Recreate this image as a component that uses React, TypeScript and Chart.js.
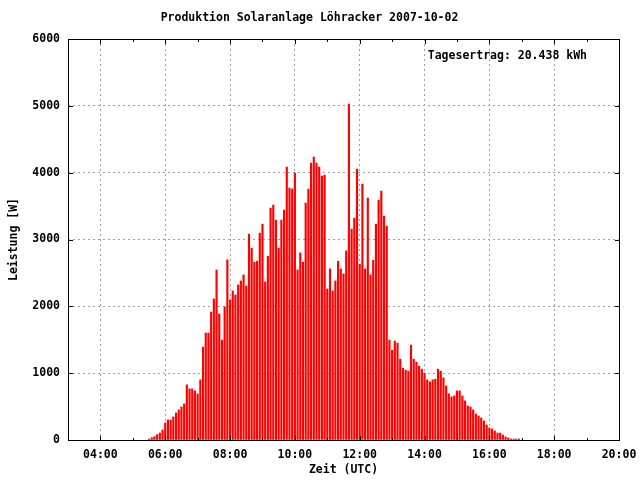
import React, { useEffect, useRef } from "react";
import { Chart, registerables } from "chart.js";

Chart.register(...registerables);

const TITLE = "Produktion Solaranlage Löhracker 2007-10-02";
const ANNOTATION = "Tagesertrag: 20.438 kWh";
const X_TITLE = "Zeit (UTC)";
const Y_TITLE = "Leistung [W]";

// first sample 05:30 UTC, one sample every 5 minutes
const START_HOUR = 5.5;
const STEP_MINUTES = 5;

// power in W, one value per 5-minute sample
const POWER_MORNING = [
  15, 35, 50, 80, 105, 150, 255, 300, 300, 345, 405, 450, 495, 540,
  825, 765, 765, 735, 690, 900, 1390, 1600, 1600, 1915, 2110, 2545, 1885, 1495, 1990, 2695,
  2095, 2230, 2170, 2320,
];
const POWER_MIDDAY = [
  2380, 2470, 2305, 3080, 2870, 2660, 2675, 3095, 3230, 2365,
  2750, 3470, 3515, 3290, 2870, 3290, 3440, 4085, 3770, 3755,
  3995, 2545, 2800, 2660, 3545, 3755, 4145, 4235, 4145, 4085,
  3950, 3965, 2260, 2560, 2230, 2380, 2675, 2560, 2485, 2830,
  5025, 3155, 3320, 4055,
  2630, 3830, 2560, 3620, 2470, 2690, 3230, 3590, 3725, 3350, 3200,
];
const POWER_AFTERNOON = [
  1495, 1345, 1480, 1450, 1210, 1075, 1045, 1030, 1420, 1210,
  1165, 1105, 1060, 1000, 900, 870, 900, 910, 1060, 1030,
  930, 810, 690, 645, 660, 735, 735, 660, 585, 510,
  495, 450, 390, 360, 330, 285, 225, 180, 165, 135,
  105, 105, 75, 45, 30, 15, 15, 15, 15,
];
const POWER = [...POWER_MORNING, ...POWER_MIDDAY, ...POWER_AFTERNOON];

const X_MIN = 3;
const X_MAX = 20;
const X_TICKS = [4, 6, 8, 10, 12, 14, 16, 18, 20];
const X_MINOR_TICKS = [5, 7, 9, 11, 13, 15, 17, 19];
const Y_TICKS = [0, 1000, 2000, 3000, 4000, 5000, 6000];

const FONT_FAMILY = "'DejaVu Sans Mono', monospace";
const FONT = { family: FONT_FAMILY, size: 11.5, weight: "bold" as const };

const hourLabel = (h: number) => String(h).padStart(2, "0") + ":00";

const framePlugin = {
  id: "frameTicks",
  afterDatasetsDraw(chart: any) {
    const { ctx, chartArea, scales } = chart;
    const { left, right, top, bottom } = chartArea;
    const x = scales.x;
    const y = scales.y;
    ctx.save();
    ctx.strokeStyle = "#000";
    ctx.lineWidth = 1;
    ctx.beginPath();
    for (const h of X_TICKS) {
      const px = Math.round(x.getPixelForValue(h)) + 0.5;
      ctx.moveTo(px, bottom + 0.5);
      ctx.lineTo(px, bottom - 4);
      ctx.moveTo(px, top + 0.5);
      ctx.lineTo(px, top + 5);
    }
    for (const h of X_MINOR_TICKS) {
      const px = Math.round(x.getPixelForValue(h)) + 0.5;
      ctx.moveTo(px, bottom + 0.5);
      ctx.lineTo(px, bottom - 2);
      ctx.moveTo(px, top + 0.5);
      ctx.lineTo(px, top + 3);
    }
    for (const v of Y_TICKS) {
      const py = Math.round(y.getPixelForValue(v)) + 0.5;
      ctx.moveTo(left + 0.5, py);
      ctx.lineTo(left + 5, py);
      ctx.moveTo(right + 0.5, py);
      ctx.lineTo(right - 4, py);
    }
    ctx.stroke();
    ctx.strokeRect(left + 0.5, top + 0.5, right - left, bottom - top);

    ctx.fillStyle = "#000";
    ctx.font = `bold ${FONT.size}px ${FONT_FAMILY}`;
    ctx.textAlign = "right";
    ctx.textBaseline = "middle";
    ctx.fillText(ANNOTATION, right - 32, top + 17);
    ctx.restore();
  },
};

export default function App() {
  const ref = useRef<HTMLCanvasElement | null>(null);

  useEffect(() => {
    if (!ref.current) return;
    const points = POWER.map((v, i) => ({ x: START_HOUR + (i * STEP_MINUTES) / 60, y: v }));
    const chart = new Chart(ref.current, {
      type: "bar",
      data: {
        datasets: [
          {
            data: points as any,
            backgroundColor: "#ff0000",
            borderWidth: 0,
            barThickness: 1.5,
          },
        ],
      },
      plugins: [framePlugin],
      options: {
        animation: false,
        responsive: false,
        devicePixelRatio: 1,
        layout: { padding: { left: 0, right: 21, top: 0, bottom: 0 } },
        plugins: {
          legend: { display: false },
          tooltip: { enabled: false },
          title: {
            display: true,
            text: TITLE,
            color: "#000",
            font: FONT,
            padding: { top: 11.5, bottom: 13.7 },
          },
        },
        scales: {
          x: {
            type: "linear",
            min: X_MIN,
            max: X_MAX,
            offset: false,
            afterBuildTicks: (s: any) => {
              s.ticks = X_TICKS.map((v) => ({ value: v }));
            },
            afterFit: (s: any) => {
              s.height = 40;
              s.paddingLeft = 0;
              s.paddingRight = 0;
            },
            grid: {
              color: "#a0a0a0",
              lineWidth: 1,
              drawTicks: false,
              offset: false,
            },
            border: { display: false, dash: [2, 3] },
            ticks: {
              color: "#000",
              font: FONT,
              padding: 8,
              maxRotation: 0,
              autoSkip: false,
              callback: (v: any) => hourLabel(Number(v)),
            },
            title: {
              display: true,
              text: X_TITLE,
              color: "#000",
              font: FONT,
              padding: { top: 0, bottom: 3 },
            },
          },
          y: {
            type: "linear",
            min: 0,
            max: 6000,
            afterBuildTicks: (s: any) => {
              s.ticks = Y_TICKS.map((v) => ({ value: v }));
            },
            afterFit: (s: any) => {
              s.width = 68;
              s.paddingTop = 0;
              s.paddingBottom = 0;
            },
            grid: {
              color: "#a0a0a0",
              lineWidth: 1,
              drawTicks: false,
            },
            border: { display: false, dash: [2, 3] },
            ticks: {
              color: "#000",
              font: FONT,
              padding: 8,
              callback: (v: any) => String(v),
            },
            title: {
              display: true,
              text: Y_TITLE,
              color: "#000",
              font: FONT,
              padding: { top: 7.5, bottom: 0 },
            },
          },
        },
      },
    });
    return () => chart.destroy();
  }, []);

  return (
    <div style={{ position: "absolute", left: 0, top: 0, width: 640, height: 480, background: "#fff" }}>
      <canvas ref={ref} width={640} height={480} />
    </div>
  );
}
